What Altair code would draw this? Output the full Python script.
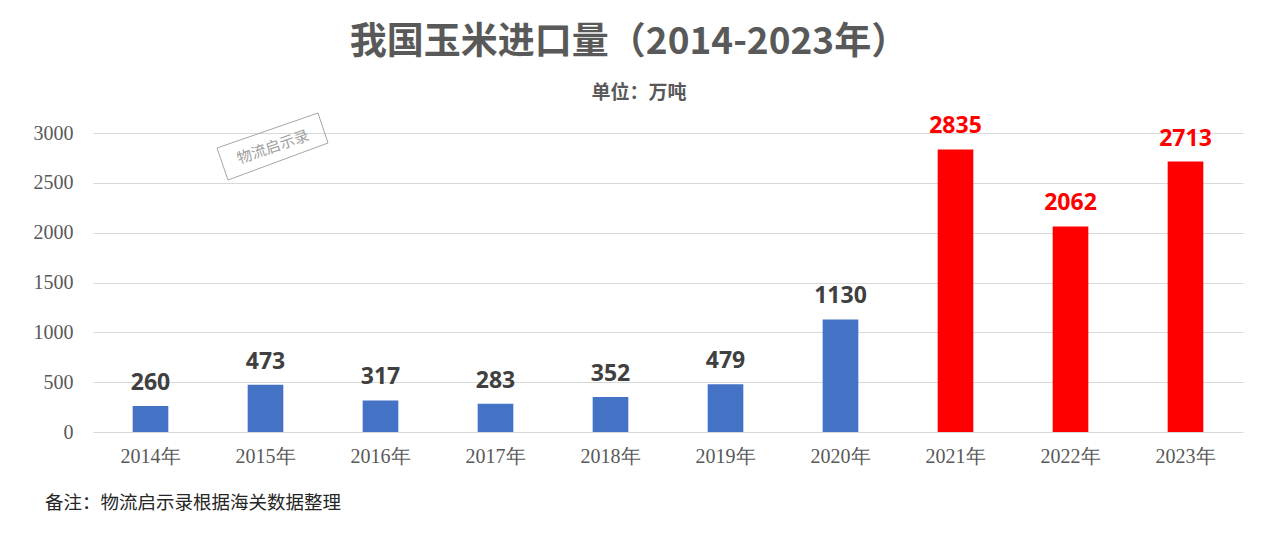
import altair as alt
import pandas as pd

years = ["2014年", "2015年", "2016年", "2017年", "2018年",
         "2019年", "2020年", "2021年", "2022年", "2023年"]
values = [260, 473, 317, 283, 352, 479, 1130, 2835, 2062, 2713]
y_ticks = [0, 500, 1000, 1500, 2000, 2500, 3000]

title_text = "我国玉米进口量（2014-2023年）"
subtitle_text = "单位：万吨"
note_text = "备注：物流启示录根据海关数据整理"
watermark_text = "物流启示录"

df = pd.DataFrame({"year": years, "value": values})

BLUE = "#4472C4"
RED = "#FF0000"
W, H = 1150, 299

x_enc = alt.X("year:N", sort=years, title=None,
              scale=alt.Scale(paddingInner=0.69, paddingOuter=0.345),
              axis=alt.Axis(labelAngle=0, ticks=False, domain=False,
                            labelFont="Liberation Serif", labelFontSize=20,
                            labelColor="#595959", labelPadding=14))
y_enc = alt.Y("value:Q", title=None,
              scale=alt.Scale(domain=[0, 3000], nice=False),
              axis=alt.Axis(values=y_ticks, ticks=False, domain=False, format="d",
                            gridColor="#d9d9d9", gridWidth=1,
                            labelFont="Liberation Serif", labelFontSize=20,
                            labelColor="#595959", labelPadding=20))

hi = alt.datum.value > 2000

base = alt.Chart(df)
bars = base.mark_bar().encode(
    x=x_enc, y=y_enc,
    color=alt.condition(hi, alt.value(RED), alt.value(BLUE)),
)
labels = base.mark_text(baseline="alphabetic", dy=-16, font="Open Sans",
                        fontWeight="bold", fontSize=23).encode(
    x=alt.X("year:N", sort=years),
    y=alt.Y("value:Q"),
    text=alt.Text("value:Q"),
    color=alt.condition(hi, alt.value(RED), alt.value("#404040")),
)

one = alt.Data(values=[{}])

title = alt.Chart(one).mark_text(font="Noto Sans CJK SC", fontWeight="bold",
                                 fontSize=37, color="#595959",
                                 baseline="middle", align="center").encode(
    x=alt.value(536), y=alt.value(-90), text=alt.value(title_text))
subtitle = alt.Chart(one).mark_text(font="Noto Sans CJK SC", fontWeight="bold",
                                    fontSize=19, color="#595959",
                                    baseline="middle", align="center").encode(
    x=alt.value(546), y=alt.value(-40), text=alt.value(subtitle_text))
note = alt.Chart(one).mark_text(font="Noto Sans CJK SC", fontSize=18.5,
                                color="#262626", baseline="middle",
                                align="left").encode(
    x=alt.value(-48), y=alt.value(370), text=alt.value(note_text))

wm_text = alt.Chart(one).mark_text(font="Noto Sans CJK SC", fontSize=15,
                                   color="#a0a0a0", angle=341,
                                   baseline="middle", align="center").encode(
    x=alt.value(180), y=alt.value(14), text=alt.value(watermark_text))

corners = [(124, 15), (225, -20), (235, 10), (135, 47)]
edges = []
for i in range(4):
    (x1, y1), (x2, y2) = corners[i], corners[(i + 1) % 4]
    edges.append(alt.Chart(one).mark_rule(color="#a6a6a6", strokeWidth=1).encode(
        x=alt.value(x1), y=alt.value(y1), x2=alt.value(x2), y2=alt.value(y2)))

chart = alt.layer(bars, labels, title, subtitle, note, wm_text, *edges).properties(
    width=W, height=H,
    autosize=alt.AutoSizeParams(type="none"),
    padding={"left": 93, "top": 133, "right": 37, "bottom": 113},
    background="white",
).configure_view(stroke=None)

chart.save("out.html", embed_options={"renderer": "svg", "actions": False})
